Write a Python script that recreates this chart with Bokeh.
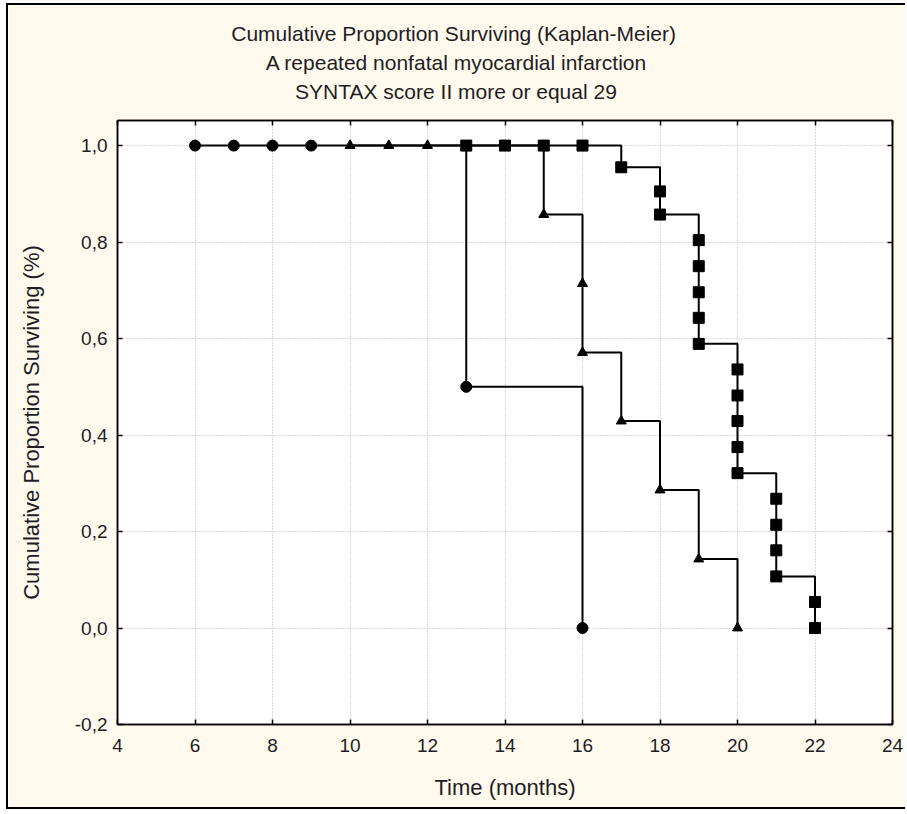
from bokeh.plotting import figure
from bokeh.models import (FixedTicker, CustomJSTickFormatter, LinearAxis, Title,
                          Range1d)
from bokeh.embed import file_html
from bokeh.resources import INLINE

# ---------------- data ----------------
title_lines = ["Cumulative Proportion Surviving (Kaplan-Meier)",
               "A repeated nonfatal myocardial infarction",
               "SYNTAX score II more or equal 29"]
x_label = "Time (months)"
y_label = "Cumulative Proportion Surviving (%)"

x_ticks = [4, 6, 8, 10, 12, 14, 16, 18, 20, 22, 24]
y_ticks = [-0.2, 0.0, 0.2, 0.4, 0.6, 0.8, 1.0]

# group 1 (circles)
circ_t = [6, 7, 8, 9, 13, 16]
circ_s = [1.0, 1.0, 1.0, 1.0, 0.5, 0.0]

# group 2 (triangles)
tri_t = [10, 11, 12, 15, 16, 16, 17, 18, 19, 20]
tri_s = [1.0, 1.0, 1.0, 0.857, 0.714, 0.571, 0.429, 0.286, 0.143, 0.0]

# group 3 (squares)
sq_t = [13, 14, 15, 16, 17, 18, 18, 19, 19, 19, 19, 19,
        20, 20, 20, 20, 20, 21, 21, 21, 21, 22, 22]
sq_s = [1.0, 1.0, 1.0, 1.0, 0.955, 0.905, 0.857, 0.804, 0.750, 0.696, 0.643, 0.589,
        0.536, 0.482, 0.429, 0.375, 0.321, 0.268, 0.214, 0.161, 0.107, 0.054, 0.0]

# ---------------- styling ----------------
FONT = "Liberation Sans"
TXT = "#1e1e1e"
BG = "#FFF9EE"

FRAME_LEFT = 109
p = figure(width=899, height=806,
           x_range=Range1d(4, 24), y_range=Range1d(-0.2, 1.052),
           output_backend="svg", toolbar_location=None,
           min_border_left=FRAME_LEFT, min_border_right=15,
           min_border_top=115, min_border_bottom=87)
p.styles = {"margin-left": "6px", "margin-top": "3px",
            "border-left": "2px solid black", "border-top": "2px solid black",
            "border-bottom": "2px solid black"}

p.background_fill_color = "white"
p.border_fill_color = BG
p.outline_line_color = "black"
p.outline_line_width = 1.5

# bottom axis
xa = p.xaxis[0]
xa.ticker = FixedTicker(ticks=x_ticks)
xa.formatter = CustomJSTickFormatter(code="return tick.toFixed(0);")
# left axis
ya = p.yaxis[0]
ya.ticker = FixedTicker(ticks=y_ticks)
ya.formatter = CustomJSTickFormatter(code="return tick.toFixed(1).replace('.', ',');")

for ax in (xa, ya):
    ax.major_tick_in = 5
    ax.major_tick_out = 0
    ax.minor_tick_line_color = None
    ax.axis_line_color = "black"
    ax.axis_line_width = 1.5
    ax.major_tick_line_color = "black"
    ax.major_tick_line_width = 1.5
    ax.major_label_text_font = FONT
    ax.major_label_text_font_size = "19px"
    ax.major_label_text_color = TXT
    ax.axis_label_text_font = FONT
    ax.axis_label_text_font_size = "22px"
    ax.axis_label_text_font_style = "normal"
    ax.axis_label_text_color = TXT

xa.axis_label = x_label
xa.major_label_standoff = 14
xa.axis_label_standoff = 20
ya.axis_label = y_label
ya.major_label_standoff = 10
ya.axis_label_standoff = 28

# top and right axes (ticks only)
top = LinearAxis(ticker=FixedTicker(ticks=x_ticks),
                 formatter=CustomJSTickFormatter(code="return '';"))
right = LinearAxis(ticker=FixedTicker(ticks=y_ticks),
                   formatter=CustomJSTickFormatter(code="return '';"))
for ax in (top, right):
    ax.major_tick_in = 5
    ax.major_tick_out = 0
    ax.minor_tick_line_color = None
    ax.major_label_standoff = 0
    ax.major_label_text_font_size = "0px"
    ax.axis_line_color = "black"
    ax.axis_line_width = 1.5
    ax.major_tick_line_color = "black"
    ax.major_tick_line_width = 1.5
# invisible spacer label on the top axis: gap between frame and title block
top.axis_label = " "
top.axis_label_text_font_size = "8px"
top.axis_label_standoff = 4
p.add_layout(top, "above")
p.add_layout(right, "right")

# grid
p.xgrid.ticker = FixedTicker(ticks=x_ticks)
p.ygrid.ticker = FixedTicker(ticks=y_ticks)
for g in (p.xgrid, p.ygrid):
    g.grid_line_color = "#b4b4b4"
    g.grid_line_dash = "1 2"
    g.grid_line_width = 1

# survival curves
LW = 2
p.step(circ_t, circ_s, mode="after", line_color="black", line_width=LW)
p.step(tri_t, tri_s, mode="after", line_color="black", line_width=LW)
p.step(sq_t, sq_s, mode="after", line_color="black", line_width=LW)

p.scatter(circ_t, circ_s, marker="circle", size=11, fill_color="black", line_color="black")
p.scatter(tri_t, tri_s, marker="triangle", size=10, fill_color="black", line_color="black")
p.scatter(sq_t, sq_s, marker="square", size=11, fill_color="black", line_color="black")

# title: three lines, centred on the whole picture (not on the frame)
TITLE_PX = 21
# approximate Arial/Liberation Sans widths of each line, in em
title_em = [21.45, 18.175, 15.375]
title_center = 448   # canvas x of the title centre
for txt, em in reversed(list(zip(title_lines, title_em))):
    off = title_center - FRAME_LEFT - em * TITLE_PX / 2
    p.add_layout(Title(text=txt, align="left", offset=off, text_font=FONT,
                       text_font_size=f"{TITLE_PX}px", text_font_style="normal",
                       text_color=TXT, standoff=4), "above")

open("out.html", "w").write(file_html(p, INLINE))
